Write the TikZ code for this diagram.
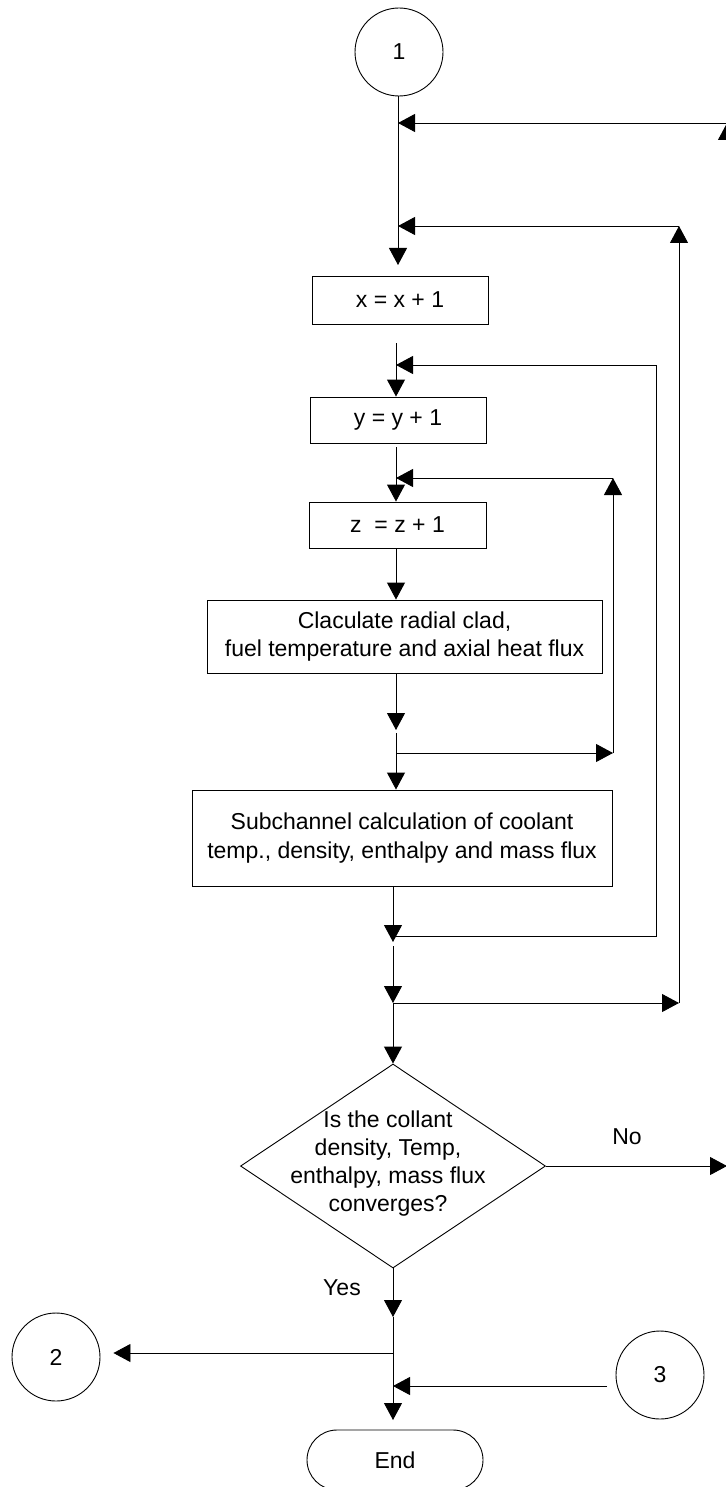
\documentclass[tikz,border=0pt]{standalone}
\usepackage{fontspec}
\setmainfont{Liberation Sans}
\usetikzlibrary{arrows.meta,shapes.geometric,shapes.misc}
\begin{document}
\begin{tikzpicture}[x=1pt,y=-1pt,
  every node/.style={font=\fontsize{23}{28}\selectfont},
  ln/.style={line width=0.9pt},
  arr/.style={ln,-{Triangle[length=17pt,width=18pt]}},
  procbox/.style={draw,ln,rectangle,inner sep=0pt,align=center},
  conn/.style={draw,ln,circle,inner sep=0pt,minimum size=88pt},
]
\useasboundingbox (0,0) rectangle (725,1487);

% nodes
\node[conn] (c1) at (399,52) {1};
\node[procbox,minimum width=176pt,minimum height=48pt] (xb) at (400,300) {x = x + 1};
\node[procbox,minimum width=176pt,minimum height=46pt] (yb) at (398,420) {y = y + 1};
\node[procbox,minimum width=177pt,minimum height=46pt] (zb) at (397.5,525) {z~ = z + 1};
\node[procbox,minimum width=395pt,minimum height=73pt] (cb) at (404.5,636.5)
  {Claculate radial clad,\\fuel temperature and axial heat flux};
\node[procbox,minimum width=420pt,minimum height=96pt,font=\fontsize{23}{29.5}\selectfont] (sb) at (402,838)
  {Subchannel calculation of coolant\\temp., density, enthalpy and mass flux};
\node[draw,ln,diamond,inner sep=0pt,minimum width=305pt,minimum height=204pt] (d) at (393,1166) {};
\node[align=center,inner sep=0pt] (dt) at (388,1164)
  {Is the collant\\density, Temp,\\enthalpy, mass flux\\converges?};
\node[conn] (c2) at (56,1357) {2};
\node[conn] (c3) at (660,1375) {3};
\node[draw,ln,rounded rectangle,inner sep=0pt,minimum width=176pt,minimum height=60pt] (en) at (395,1460) {End};
\node (no) at (627,1137) {No};
\node (yes) at (342,1288) {Yes};

% junction coordinates
\coordinate (a1) at (398,265);
\coordinate (j1) at (398,123);
\coordinate (r1) at (727,123);
\coordinate (r1b) at (727,1166);
\coordinate (j2) at (398,226);
\coordinate (r2) at (679,226);
\coordinate (r2b) at (679,1003);
\coordinate (s2) at (396,343);
\coordinate (j3) at (396,365);
\coordinate (r3) at (656,365);
\coordinate (r3b) at (656,936);
\coordinate (j7) at (393,936);
\coordinate (s3) at (396,447);
\coordinate (j4) at (396,478);
\coordinate (r4) at (613,478);
\coordinate (r4b) at (613,753);
\coordinate (s4) at (396,549);
\coordinate (s5) at (396,673);
\coordinate (a5) at (396,730);
\coordinate (s6) at (396,733);
\coordinate (j5) at (396,753);
\coordinate (s7) at (393,886);
\coordinate (a7) at (393,942);
\coordinate (s8) at (393,946);
\coordinate (j6) at (393,1003);
\coordinate (a9) at (393,1317);
\coordinate (j9) at (393,1353);
\coordinate (s10) at (607,1386);
\coordinate (j10) at (393,1386);
\coordinate (a11) at (393,1420);

% connectors
\draw[arr] (c1.south -| a1) -- (a1);
\draw[arr] (r1b) -- (r1);
\draw[arr] (r1) -- (j1);
\draw[arr] (r2b) -- (r2);
\draw[arr] (r2) -- (j2);
\draw[arr] (s2) -- (s2 |- yb.north);
\draw[ln] (j7) -- (r3b) -- (r3);
\draw[arr] (r3) -- (j3);
\draw[arr] (s3) -- (s3 |- zb.north);
\draw[arr] (j5) -- (r4b);
\draw[arr] (r4b) -- (r4);
\draw[arr] (r4) -- (j4);
\draw[arr] (s4) -- (s4 |- cb.north);
\draw[arr] (s5) -- (a5);
\draw[arr] (s6) -- (s6 |- sb.north);
\draw[arr] (s7) -- (a7);
\draw[arr] (s8) -- (j6);
\draw[arr] (j6) -- (r2b);
\draw[arr] (j6) -- (d.north);
\draw[arr] (d.east) -- (r1b);
\draw[arr] (d.south) -- (a9);
\draw[arr,shorten >=13pt] (j9) -- (j9 -| c2.east);
\draw[arr] (s10) -- (j10);
\draw[arr] (a9) -- (a11);
\end{tikzpicture}
\end{document}
